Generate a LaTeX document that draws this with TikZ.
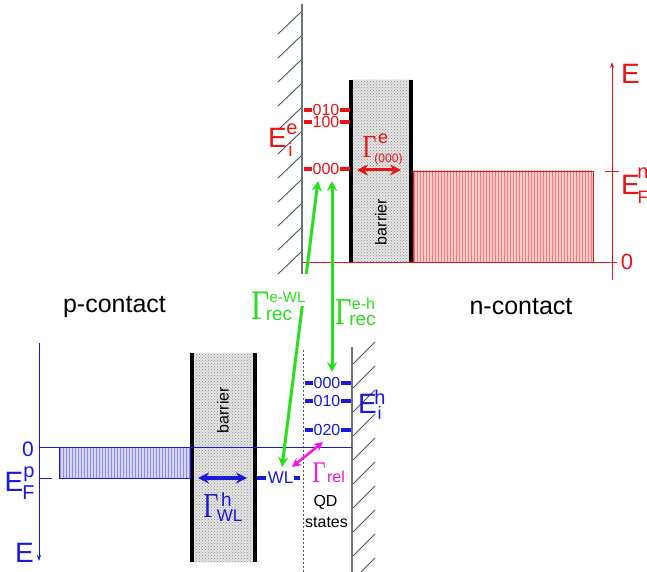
\documentclass[tikz,border=0pt]{standalone}
\usepackage{fontspec}
\setmainfont{Liberation Sans}
\newfontfamily\serifG{Liberation Serif}
\usetikzlibrary{arrows.meta,patterns}
\definecolor{cRed}{RGB}{235,20,20}
\definecolor{cBlue}{RGB}{25,25,220}
\definecolor{cGreen}{RGB}{40,225,30}
\definecolor{cMag}{RGB}{245,20,225}
\definecolor{cWall}{RGB}{70,85,85}
\newcommand\fs[1]{\fontsize{#1}{#1}\selectfont}
\newcommand\Gam[1]{\scalebox{0.75}[1]{\fs{#1}\serifG Γ}}
\tikzset{
  lbl/.style={inner sep=0pt, outer sep=0pt},
  wall/.style={draw=cWall!80, line width=1.3pt},
  hatch/.style={draw=cWall, line width=0.9pt},
  barrierfill/.style={preaction={fill=black!10}, pattern=crosshatch dots, pattern color=black!45},
  barrierline/.style={draw=black, line width=4pt},
  tickR/.style={draw=cRed, line width=4pt},
  tickB/.style={draw=cBlue, line width=4pt},
  dbl/.style={arrows={Stealth[length=#1,width=#1]-Stealth[length=#1,width=#1]}},
}
\begin{document}
\begin{tikzpicture}[x=1pt,y=-1pt]
\useasboundingbox (0,0) rectangle (647,572);

% ---------------- n side (upper part) ----------------
% hard wall of the dot, hatched on its left
\draw[wall] (302,4) -- (302,276);
\foreach \k in {0,...,10}{
  \draw[hatch] (278,12+24*\k+22) -- (301,12+24*\k);
}
% tunnelling barrier to the n-contact
\path[barrierfill] (351,80) rectangle (411,262);
\draw[barrierline] (351,80) -- (351,262);
\draw[barrierline] (411,80) -- (411,262);
\node[lbl, rotate=90, font=\fs{16}] (barN) at (381,222) {barrier};
% filled electron states of the n-contact
\path[draw=cRed, line width=0.6pt, preaction={fill=cRed!22}, pattern=vertical lines, pattern color=cRed!55] (413,171) rectangle (593,262);
% energy axis of the n side
\draw[cRed, line width=0.8pt] (302,262) -- (617,262);
\draw[cRed, line width=0.8pt, -{Stealth[length=6pt,width=4pt]}] (612,280) -- (612,62);
\draw[cRed, line width=0.8pt] (605,171) -- (619,171);
\node[lbl, text=cRed, font=\fs{28}] (EnAx) at (630.5,73.5) {E};
\node[lbl, text=cRed, font=\fs{22}] (zeroN) at (627,261.5) {0};
\node[lbl, text=cRed, font=\fs{28}] (EFn) at (630.5,185) {E};
\node[lbl, text=cRed, font=\fs{20}] (EFnSup) at (643,173.5) {n};
\node[lbl, text=cRed, font=\fs{18}] (EFnSub) at (643,197.5) {F};

% electron levels of the dot
\node[lbl, text=cRed, font=\fs{16}] (e010) at (326,110) {010};
\node[lbl, text=cRed, font=\fs{16}] (e100) at (326,122) {100};
\node[lbl, text=cRed, font=\fs{16}] (e000) at (326,169) {000};
\foreach \n in {e010,e100,e000}{
  \draw[tickR] ([xshift=-1pt]\n.west) -- ++(-8,0);
  \draw[tickR] ([xshift=1pt]\n.east) -- (350,0 |- \n.east);
}
\node[lbl, text=cRed, font=\fs{28}] (Eie) at (277.5,138) {E};
\node[lbl, text=cRed, font=\fs{20}] (EieSup) at (292,129) {e};
\node[lbl, text=cRed, font=\fs{19}] (EieSub) at (290.5,150) {i};

% electron tunnelling rate
\coordinate (tnL) at (357,170);
\coordinate (tnR) at (401,170);
\draw[cRed, line width=3pt, dbl=11pt] (tnL) -- (tnR);
\node[lbl, text=cRed] (Ge) at (369.5,147.5) {\Gam{32}};
\node[lbl, text=cRed, font=\fs{18}] (GeSup) at (383,138.5) {e};
\node[lbl, text=cRed, font=\fs{12}] (GeSub) at (388.5,159.5) {(000)};

% ---------------- p side (lower part) ----------------
% hard wall of the dot, hatched on its right
\draw[wall] (352,347) -- (352,572);
\foreach \k in {0,...,9}{
  \draw[hatch] (353,342+24*\k+22) -- (375,342+24*\k);
}
% edge of the dot region
\draw[cWall, line width=0.8pt, dash pattern=on 2pt off 2pt] (303,350) -- (303,572);
% tunnelling barrier to the p-contact
\path[barrierfill] (191.5,353) rectangle (254.5,562);
\draw[barrierline] (191.5,353) -- (191.5,562);
\draw[barrierline] (254.5,353) -- (254.5,562);
\node[lbl, rotate=90, font=\fs{16}] (barP) at (223,410) {barrier};
% filled hole states of the p-contact
\path[draw=cBlue, line width=0.6pt, preaction={fill=cBlue!18}, pattern=vertical lines, pattern color=cBlue!50] (59,447) rectangle (190,478);
% energy axis of the p side (pointing down)
\draw[cBlue, line width=0.8pt] (39,447) -- (352,447);
\draw[cBlue, line width=0.8pt, -{Stealth[length=6pt,width=4pt]}] (39,343) -- (39,561);
\draw[cBlue, line width=0.8pt] (39,478) -- (52,478);
\node[lbl, text=cBlue, font=\fs{21}] (zeroP) at (28,449) {0};
\node[lbl, text=cBlue, font=\fs{28}] (EFp) at (14,482) {E};
\node[lbl, text=cBlue, font=\fs{20}] (EFpSup) at (29,474.5) {p};
\node[lbl, text=cBlue, font=\fs{20}] (EFpSub) at (28.5,492.5) {F};
\node[lbl, text=cBlue, font=\fs{28}] (EpAx) at (24.5,553) {E};

% hole levels of the dot
\node[lbl, text=cBlue, font=\fs{16}] (h000) at (327,383) {000};
\node[lbl, text=cBlue, font=\fs{16}] (h010) at (327,401) {010};
\node[lbl, text=cBlue, font=\fs{16}] (h020) at (327,430) {020};
\foreach \n in {h000,h010,h020}{
  \draw[tickB] ([xshift=-1pt]\n.west) -- ++(-8,0);
  \draw[tickB] ([xshift=1pt]\n.east) -- (351,0 |- \n.east);
}
\node[lbl, text=cBlue, font=\fs{28}] (Eih) at (367.5,404) {E};
\node[lbl, text=cBlue, font=\fs{20}] (EihSup) at (380,397.5) {h};
\node[lbl, text=cBlue, font=\fs{18}] (EihSub) at (379.5,413) {i};

% wetting layer
\node[lbl, text=cBlue, font=\fs{17}] (wl) at (280.5,478) {WL};
\draw[tickB] ([xshift=-2pt]wl.west) -- ++(-9,0);
\draw[tickB] ([xshift=1pt]wl.east) -- ++(6,0);

% hole tunnelling rate
\coordinate (tpL) at (198,478);
\coordinate (tpR) at (247,478);
\draw[cBlue, line width=3.5pt, dbl=11pt] (tpL) -- (tpR);
\node[lbl, text=cBlue] (Gh) at (211,506.5) {\Gam{35}};
\node[lbl, text=cBlue, font=\fs{19}] (GhSup) at (226.5,500) {h};
\node[lbl, text=cBlue, font=\fs{17}] (GhSub) at (229.5,516) {WL};

% relaxation from the wetting layer into the dot
\coordinate (relA) at (292,467);
\coordinate (relB) at (323,442);
\draw[cMag, line width=2.5pt, dbl=9pt] (relA) -- (relB);
\node[lbl, text=cMag] (Grel) at (319,472.5) {\Gam{30}};
\node[lbl, text=cMag, font=\fs{16}] (GrelSub) at (336,477) {rel};

\node[lbl, font=\fs{16}] (qd) at (325.5,502) {QD};
\node[lbl, font=\fs{16}] (states) at (326.5,522.5) {states};

% ---------------- recombination ----------------
\coordinate (recWLtop) at (318,181);
\coordinate (recWLbot) at (282,467);
\coordinate (recHtop) at (332,181);
\coordinate (recHbot) at (332,372);
\draw[cGreen, line width=3pt, dbl=10pt] (recWLtop) -- (recWLbot);
\draw[cGreen, line width=3pt, dbl=10pt] (recHtop) -- (recHbot);
\fill[white] (294,274) rectangle (310,306);
\node[lbl, text=cGreen] (Grec1) at (261,306) {\Gam{42}};
\node[lbl, text=cGreen, font=\fs{15}] (Grec1Sup) at (287.5,297.5) {e-WL};
\node[lbl, text=cGreen, font=\fs{19}] (Grec1Sub) at (279,315) {rec};
\node[lbl, text=cGreen] (Grec2) at (344,312.5) {\Gam{38}};
\node[lbl, text=cGreen, font=\fs{16}] (Grec2Sup) at (363.5,304) {e-h};
\node[lbl, text=cGreen, font=\fs{19}] (Grec2Sub) at (362.5,320) {rec};

% contacts
\node[lbl, font=\fs{25}] (pc) at (114.5,307) {p-contact};
\node[lbl, font=\fs{25}] (nc) at (521,307) {n-contact};
\end{tikzpicture}
\end{document}
